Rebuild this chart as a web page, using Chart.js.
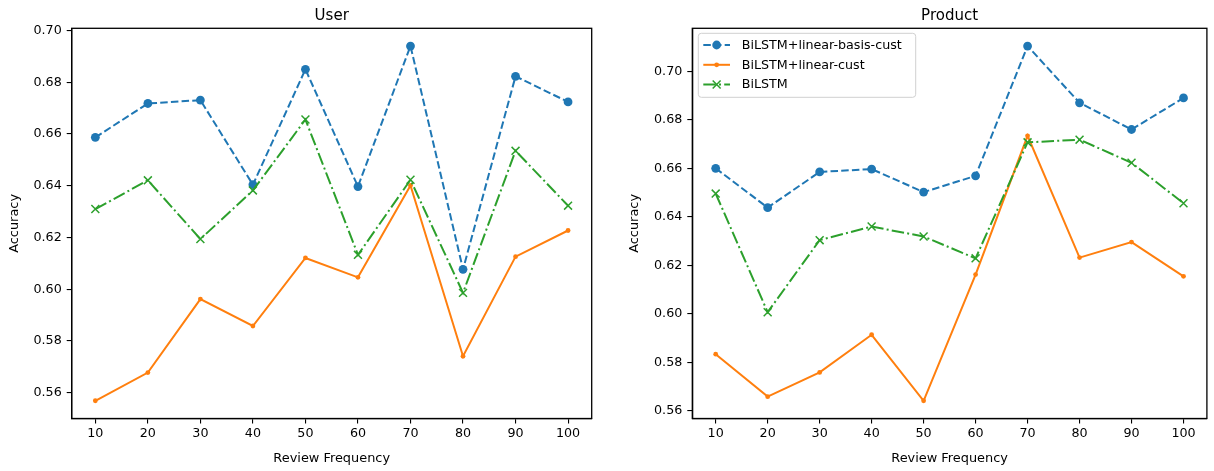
<!DOCTYPE html>
<html><head><meta charset="utf-8">
<script src="https://cdn.jsdelivr.net/npm/chart.js@4.4.0/dist/chart.umd.min.js"></script>
<style>
body{margin:0;background:#fff;width:1214px;height:471px;overflow:hidden;position:relative}
canvas{position:absolute;top:0}
</style></head><body>
<canvas id="c1" width="607" height="471" style="left:0;width:607px;height:471px"></canvas>
<canvas id="c2" width="607" height="471" style="left:607px;width:607px;height:471px"></canvas>
<script>
// ---- data ----
const frequencies = [10, 20, 30, 40, 50, 60, 70, 80, 90, 100];
const yTickValues = [0.56, 0.58, 0.60, 0.62, 0.64, 0.66, 0.68, 0.70];
const seriesNames = ['BiLSTM+linear-basis-cust', 'BiLSTM+linear-cust', 'BiLSTM'];
const panelTitles = ['User', 'Product'];
const xAxisLabel = 'Review Frequency';
const yAxisLabel = 'Accuracy';

const userBasisCust  = [0.6587, 0.6718, 0.6731, 0.6404, 0.6850, 0.6397, 0.6940, 0.6077, 0.6823, 0.6724];
const userLinearCust = [0.5569, 0.5678, 0.5962, 0.5858, 0.6121, 0.6046, 0.6401, 0.5741, 0.6126, 0.6227];
const userBiLSTM     = [0.6310, 0.6421, 0.6194, 0.6382, 0.6656, 0.6133, 0.6423, 0.5986, 0.6535, 0.6323];

const productBasisCust  = [0.6600, 0.6438, 0.6585, 0.6597, 0.6502, 0.6569, 0.7104, 0.6870, 0.6760, 0.6890];
const productLinearCust = [0.5834, 0.5659, 0.5759, 0.5914, 0.5642, 0.6162, 0.6734, 0.6232, 0.6296, 0.6155];
const productBiLSTM     = [0.6496, 0.6007, 0.6304, 0.6360, 0.6319, 0.6229, 0.6707, 0.6718, 0.6623, 0.6456];

// ---- styles ----
const FONT = 'DejaVu Sans';
const tickFont = {family: FONT, size: 12.7};
const styles = [
  {color: '#1f77b4', dash: [7.5, 3.2], pointStyle: 'circle', radius: 4.4, bw: 0, order: 3},
  {color: '#ff7f0e', dash: [], pointStyle: 'circle', radius: 2.4, bw: 0, order: 2},
  {color: '#2ca02c', dash: [12.5, 3.2, 2, 3.2], pointStyle: 'crossRot', radius: 5.6, bw: 1.5, order: 1}
];

function pts(vals) { return frequencies.map((f, i) => ({x: f, y: vals[i]})); }
function range(arrs) {
  const all = [].concat(...arrs);
  const mn = Math.min(...all), mx = Math.max(...all), m = (mx - mn) * 0.05;
  return [mn - m, mx + m];
}

const framePlugin = {
  id: 'frame',
  afterDraw(chart, args, opts) {
    const {ctx, chartArea: a} = chart;
    ctx.save();
    ctx.strokeStyle = '#000';
    ctx.lineWidth = 1.3;
    ctx.strokeRect(a.left, a.top, a.right - a.left, a.bottom - a.top);
    ctx.fillStyle = '#000';
    ctx.font = '15px "' + FONT + '"';
    ctx.textAlign = 'center';
    ctx.textBaseline = 'alphabetic';
    ctx.fillText(opts.title, (a.left + a.right) / 2, 20);
    if (opts.legend) {
      const L = opts.legend;
      const x0 = L.x, y0 = L.y, w = L.w, h = L.h, r = 3;
      ctx.beginPath();
      ctx.moveTo(x0 + r, y0);
      ctx.arcTo(x0 + w, y0, x0 + w, y0 + h, r);
      ctx.arcTo(x0 + w, y0 + h, x0, y0 + h, r);
      ctx.arcTo(x0, y0 + h, x0, y0, r);
      ctx.arcTo(x0, y0, x0 + w, y0, r);
      ctx.closePath();
      ctx.fillStyle = 'rgba(255,255,255,0.8)';
      ctx.fill();
      ctx.strokeStyle = '#d0d0d0';
      ctx.lineWidth = 1;
      ctx.stroke();
      chart.data.datasets.forEach((ds, i) => {
        const cy = L.rowY[i];
        ctx.save();
        ctx.strokeStyle = ds.borderColor;
        ctx.lineWidth = ds.borderWidth;
        ctx.setLineDash(ds.borderDash);
        ctx.beginPath();
        ctx.moveTo(L.hx0, cy);
        ctx.lineTo(L.hx1, cy);
        ctx.stroke();
        ctx.setLineDash([]);
        ctx.fillStyle = ds.pointBackgroundColor;
        ctx.strokeStyle = ds.pointBorderColor;
        ctx.lineWidth = ds.pointBorderWidth;
        Chart.helpers.drawPoint(ctx, {pointStyle: ds.pointStyle, radius: ds.pointRadius, rotation: 0, borderWidth: ds.pointBorderWidth}, (L.hx0 + L.hx1) / 2, cy);
        ctx.restore();
        ctx.fillStyle = '#000';
        ctx.font = '12.7px "' + FONT + '"';
        ctx.textAlign = 'left';
        ctx.textBaseline = 'middle';
        ctx.fillText(ds.label, L.tx, cy + 0.5);
      });
    }
    ctx.restore();
  }
};

function makeChart(id, title, seriesVals, geo, legend) {
  const [ymin, ymax] = range(seriesVals);
  const datasets = seriesVals.map((vals, i) => ({
    label: seriesNames[i],
    data: pts(vals),
    borderColor: styles[i].color,
    backgroundColor: styles[i].color,
    borderWidth: 2,
    borderDash: styles[i].dash,
    borderCapStyle: 'butt',
    pointStyle: styles[i].pointStyle,
    pointRadius: styles[i].radius,
    pointBackgroundColor: styles[i].color,
    pointBorderColor: styles[i].color,
    pointBorderWidth: styles[i].bw,
    tension: 0,
    fill: false,
    order: styles[i].order,
    clip: false
  }));
  const axisCommon = {
    grid: {display: true, drawOnChartArea: false, drawTicks: true, tickLength: 5, color: '#000', lineWidth: 1.1},
    border: {display: true, color: '#000', width: 1.3}
  };
  return new Chart(document.getElementById(id), {
    type: 'line',
    data: {datasets},
    options: {
      responsive: false,
      animation: false,
      devicePixelRatio: 1,
      events: [],
      layout: {padding: {left: 0, right: geo.padRight, top: 28.3, bottom: 0}},
      plugins: {
        legend: {display: false},
        tooltip: {enabled: false},
        title: {display: false},
        frame: {title, legend}
      },
      scales: {
        x: Object.assign({}, axisCommon, {
          type: 'linear',
          min: 5.5, max: 104.5,
          afterBuildTicks: s => { s.ticks = frequencies.map(v => ({value: v})); },
          afterFit: s => { s.height = 52.5; },
          ticks: {font: tickFont, color: '#000', padding: 3, maxRotation: 0, autoSkip: false, callback: v => String(v)},
          title: {display: true, text: xAxisLabel, color: '#000', font: {family: FONT, size: 12.9}, padding: {top: 0, bottom: 5}}
        }),
        y: Object.assign({}, axisCommon, {
          type: 'linear',
          min: ymin, max: ymax,
          afterBuildTicks: s => { s.ticks = yTickValues.map(v => ({value: v})); },
          afterFit: s => { s.width = geo.axisW; },
          ticks: {font: tickFont, color: '#000', padding: 5, autoSkip: false, callback: v => v.toFixed(2)},
          title: {display: true, text: yAxisLabel, color: '#000', font: {family: FONT, size: 12.9}, padding: {top: geo.yTitlePad, bottom: 0}}
        })
      }
    },
    plugins: [framePlugin]
  });
}

makeChart('c1', panelTitles[0], [userBasisCust, userLinearCust, userBiLSTM],
  {axisW: 71.7, padRight: 15.3, yTitlePad: 7.3}, null);
makeChart('c2', panelTitles[1], [productBasisCust, productLinearCust, productBiLSTM],
  {axisW: 85.3, padRight: 1.7, yTitlePad: 20.3},
  {x: 91.3, y: 33.3, w: 217.4, h: 64, hx0: 96.3, hx1: 123, tx: 134.7, rowY: [45, 64.8, 84.5]});
</script>
</body></html>
